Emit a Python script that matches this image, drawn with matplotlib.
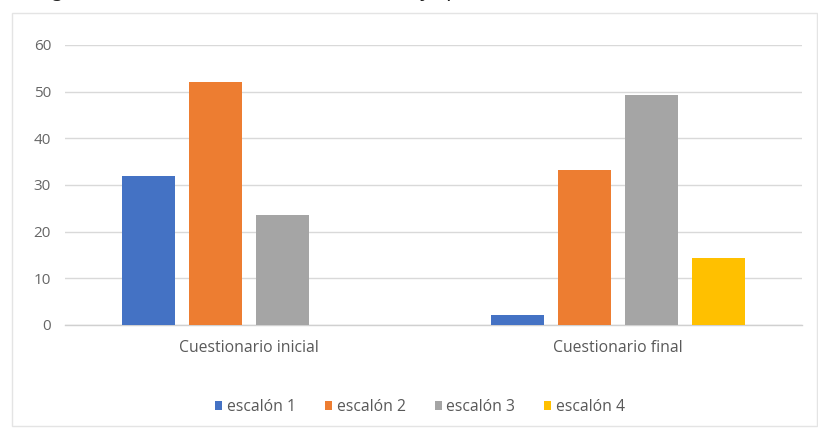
import matplotlib
matplotlib.use("Agg")
import matplotlib.pyplot as plt
import numpy as np
from matplotlib.patches import Rectangle

categories = ["Cuestionario inicial", "Cuestionario final"]
series_names = ["escalón 1", "escalón 2", "escalón 3", "escalón 4"]
escalon1 = [32, 2.2]
escalon2 = [52, 33.2]
escalon3 = [23.5, 49.3]
escalon4 = [0, 14.4]
yticks = [0, 10, 20, 30, 40, 50, 60]

colors = ["#4472C4", "#ED7D31", "#A5A5A5", "#FFC000"]
plt.rcParams['font.family'] = ['Open Sans', 'DejaVu Sans']

W, H = 818, 428
fig = plt.figure(figsize=(W / 100, H / 100), dpi=100)

# outer chart frame
fig.patches.append(Rectangle((12 / W, 1 - 426 / H), (817 - 12) / W, (426 - 13) / H,
                             transform=fig.transFigure, fill=False,
                             edgecolor="#e4e4e4", linewidth=1.0))

# partially cut caption above the chart
for ch, xp in [("g", 57), ("y", 425), ("p", 452)]:
    fig.text(xp / W, 1 + 3 / H, ch, fontsize=15, color="#222222",
             ha="center", va="baseline", family="DejaVu Sans")

ax = fig.add_axes([65 / W, 1 - 325 / H, (802 - 65) / W, (325 - 45) / H])

x = np.arange(len(categories))
step = 0.182
width = 0.144
all_series = [escalon1, escalon2, escalon3, escalon4]
for i, (vals, name, c) in enumerate(zip(all_series, series_names, colors)):
    ax.bar(x + (i - 1.5) * step, vals, width=width, color=c, label=name, zorder=3)

ax.set_xlim(-0.5, 1.5)
ax.set_ylim(0, 60)
ax.set_yticks(yticks)
ax.set_yticklabels([str(t) for t in yticks], color="#666666", fontsize=11)
ax.set_xticks(x)
ax.set_xticklabels(categories, color="#595959", fontsize=11.3)
ax.tick_params(axis="y", length=0, pad=10)
ax.tick_params(axis="x", length=0, pad=11)
ax.yaxis.grid(True, color="#d9d9d9", linewidth=1.0, zorder=0)
ax.set_axisbelow(True)
for s in ["top", "right", "left"]:
    ax.spines[s].set_visible(False)
ax.spines["bottom"].set_color("#d0d0d0")
ax.spines["bottom"].set_linewidth(1.0)

leg = fig.legend(loc="center", bbox_to_anchor=(420 / W, 1 - 407 / H), ncol=4,
                 frameon=False, fontsize=11.3, handlelength=0.45, handleheight=0.45,
                 handletextpad=0.3, columnspacing=1.85)
for t in leg.get_texts():
    t.set_color("#595959")

fig.savefig("out.png", dpi=100)
